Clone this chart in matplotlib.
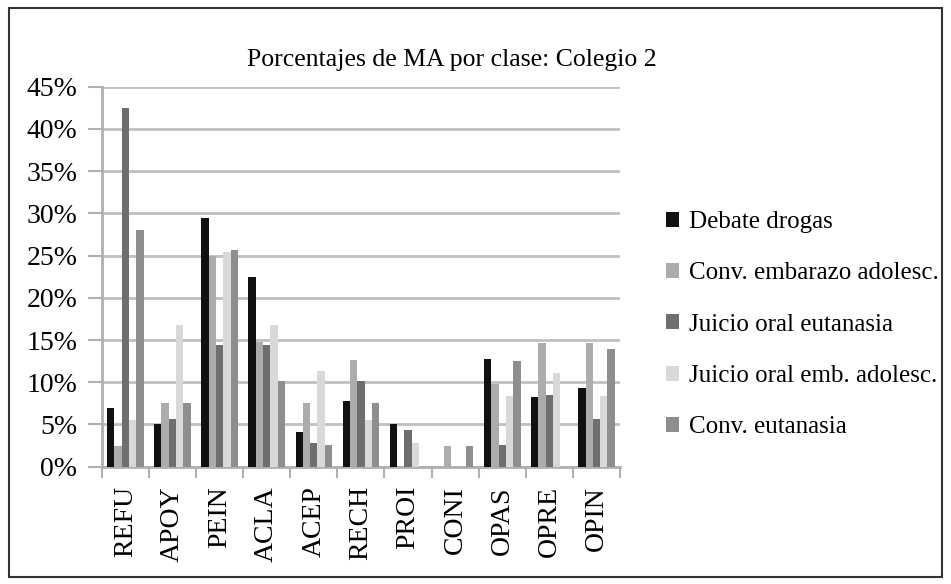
import numpy as np
import matplotlib
matplotlib.use('Agg')
import matplotlib.pyplot as plt
from matplotlib.patches import Rectangle
from matplotlib.ticker import FixedLocator, PercentFormatter

categories = ['REFU', 'APOY', 'PEIN', 'ACLA', 'ACEP', 'RECH', 'PROI', 'CONI', 'OPAS', 'OPRE', 'OPIN']
series_names = ['Debate drogas', 'Conv. embarazo adolesc.', 'Juicio oral eutanasia',
                'Juicio oral emb. adolesc.', 'Conv. eutanasia']
debate_drogas = [6.9, 5.1, 29.4, 22.5, 4.1, 7.8, 5.1, 0, 12.8, 8.3, 9.3]
conv_embarazo = [2.5, 7.5, 25.0, 14.8, 7.5, 12.6, 0, 2.4, 9.8, 14.7, 14.7]
juicio_eutanasia = [42.5, 5.7, 14.4, 14.4, 2.8, 10.1, 4.3, 0, 2.6, 8.5, 5.7]
juicio_embarazo = [5.5, 16.8, 25.4, 16.8, 11.3, 5.5, 2.8, 0, 8.4, 11.1, 8.4]
conv_eutanasia = [28.0, 7.6, 25.7, 10.1, 2.6, 7.6, 0, 2.4, 12.5, 0, 13.9]
colors = ['#111111', '#acacac', '#6e6e6e', '#d9d9d9', '#8e8e8e']

plt.rcParams['font.family'] = ['Liberation Serif', 'DejaVu Serif']

fig = plt.figure(figsize=(9.51, 5.84), dpi=100)
ax = fig.add_axes([0.107, 0.2009, 0.545, 0.6506])

series = [debate_drogas, conv_embarazo, juicio_eutanasia, juicio_embarazo, conv_eutanasia]
x = np.arange(len(categories))
w = 0.155
for k, (vals, name, c) in enumerate(zip(series, series_names, colors)):
    ax.bar(x + (k - 2) * w, vals, width=w, color=c, label=name, zorder=3)

ax.set_xlim(-0.5, len(categories) - 0.5)
ax.set_ylim(0, 45)
ax.set_yticks(np.arange(0, 46, 5))
ax.yaxis.set_major_formatter(PercentFormatter(decimals=0))
ax.grid(axis='y', color='#c0c0c0', linewidth=2, zorder=0)

ax.set_xticks(x)
ax.set_xticklabels(categories, rotation=90, fontsize=20)
ax.xaxis.set_minor_locator(FixedLocator(np.arange(-0.5, len(categories), 1)))
ax.tick_params(axis='x', which='major', length=0, pad=14)
ax.tick_params(axis='x', which='minor', length=8, width=1.5, color='#b0b0b0')
ax.tick_params(axis='y', length=10, width=1.5, color='#b0b0b0', labelsize=20, pad=7.5)

for s in ['top', 'right']:
    ax.spines[s].set_visible(False)
for s in ['left', 'bottom']:
    ax.spines[s].set_color('#b0b0b0')
    ax.spines[s].set_linewidth(2)

fig.text(0.475, 0.897, 'Porcentajes de MA por clase: Colegio 2', ha='center', va='center', fontsize=18.5)

fig.legend(loc='center left', bbox_to_anchor=(0.700, 0.444), frameon=False, fontsize=18,
           handlelength=0.55, handleheight=0.55, handletextpad=0.4, labelspacing=1.17,
           borderaxespad=0, borderpad=0)

fig.add_artist(Rectangle((0.009, 0.012), 0.982, 0.975, transform=fig.transFigure,
                         fill=False, edgecolor='#333333', linewidth=1.5))

fig.savefig('out.png', dpi=100)
